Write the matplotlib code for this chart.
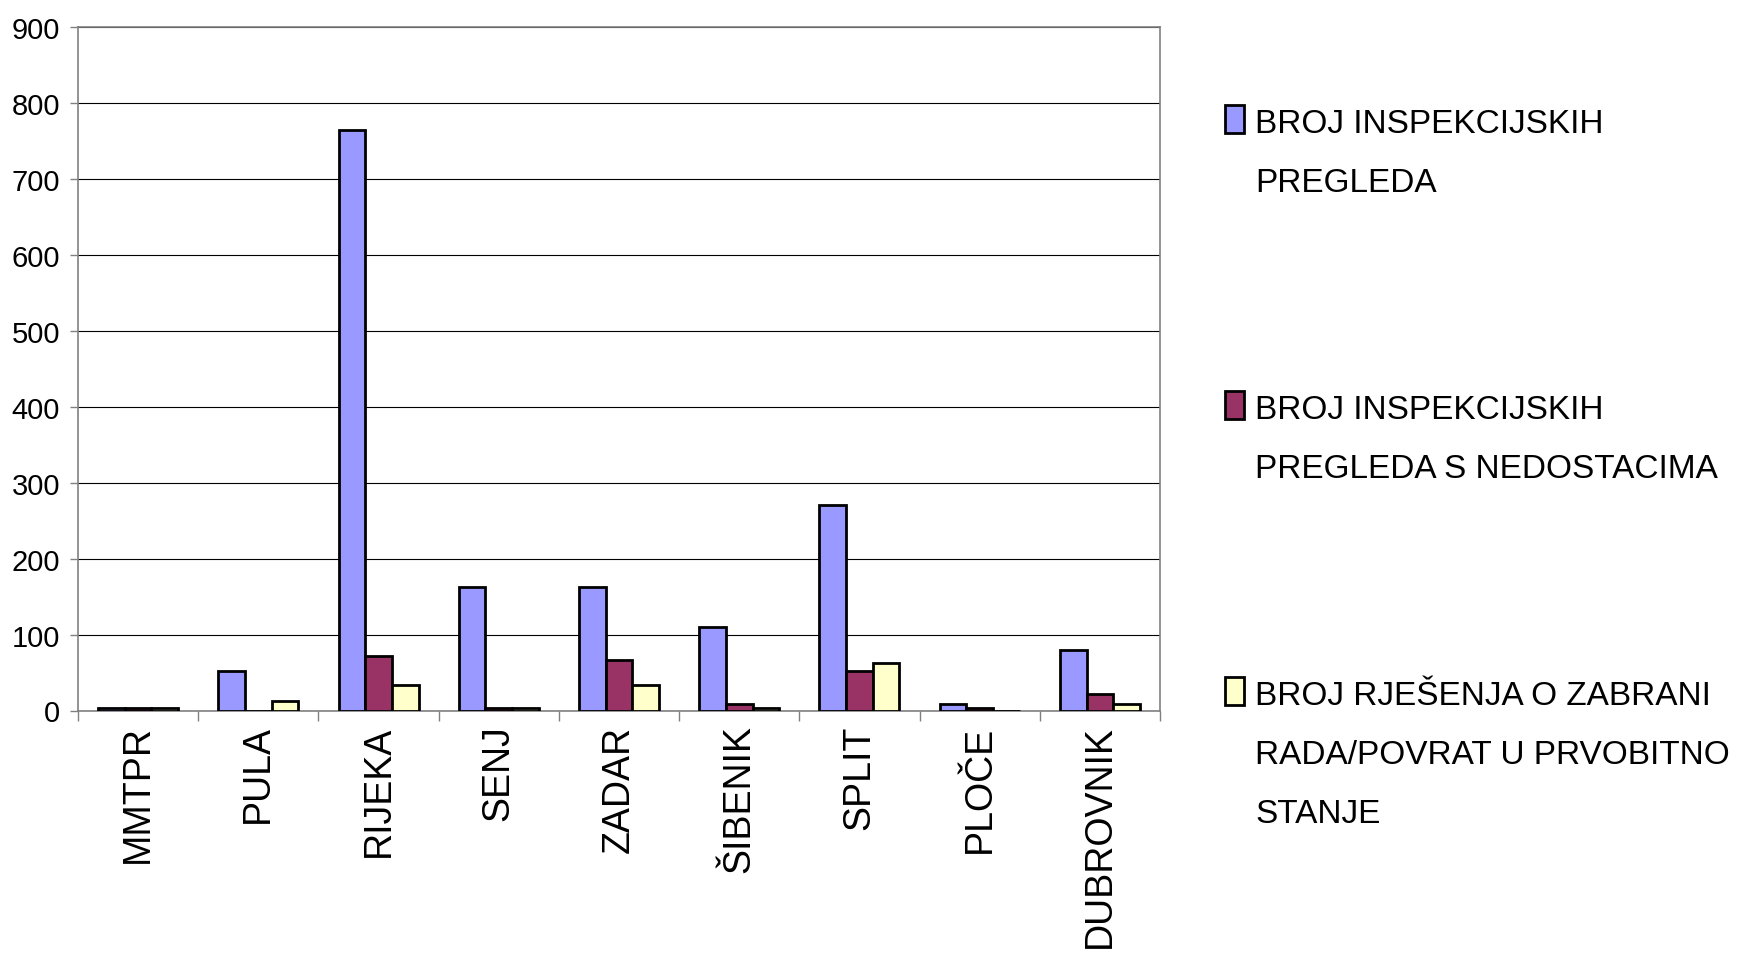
import matplotlib
matplotlib.use("Agg")
import matplotlib.pyplot as plt
import numpy as np
from matplotlib.patches import Rectangle

categories = ["MMTPR", "PULA", "RIJEKA", "SENJ", "ZADAR", "ŠIBENIK", "SPLIT", "PLOČE", "DUBROVNIK"]
pregledi = [3, 52, 765, 163, 163, 110, 270, 8, 80]
s_nedostacima = [3, 0, 72, 3, 67, 8, 52, 3, 22]
rjesenja = [3, 13, 33, 3, 33, 3, 62, 0, 8]
series_labels = [
    ["BROJ INSPEKCIJSKIH", "PREGLEDA"],
    ["BROJ INSPEKCIJSKIH", "PREGLEDA S NEDOSTACIMA"],
    ["BROJ RJEŠENJA O ZABRANI", "RADA/POVRAT U PRVOBITNO", "STANJE"],
]
colors = ["#9999FF", "#993366", "#FFFFCC"]
yticks = [0, 100, 200, 300, 400, 500, 600, 700, 800, 900]

font = "Liberation Sans"

W, H = 1746, 962
fig = plt.figure(figsize=(W / 100, H / 100), dpi=100)
left, right, top, bottom = 78, 1160, 28, 711.5
ax = fig.add_axes([left / W, 1 - bottom / H, (right - left) / W, (bottom - top) / H])

x = np.arange(len(categories))
bw = 0.222
series = [pregledi, s_nedostacima, rjesenja]
for i, (vals, c) in enumerate(zip(series, colors)):
    ax.bar(x + (i - 1) * bw, vals, width=bw, color=c, edgecolor="black", linewidth=2.0, zorder=3)

ax.set_xlim(-0.5, len(categories) - 0.5)
ax.set_ylim(0, 900)
ax.set_yticks(yticks)
ax.set_yticklabels([str(v) for v in yticks], fontfamily=font, fontsize=21)
ax.yaxis.grid(True, color="#000000", linewidth=0.8, zorder=0)
ax.set_axisbelow(True)

ax.set_xticks(np.arange(len(categories) + 1) - 0.5)
ax.set_xticklabels([])
ax.set_xticks(x, minor=True)
ax.set_xticklabels(categories, minor=True, rotation=90, fontfamily=font, fontsize=27,
                   va="top", ha="center")
ax.tick_params(axis="x", which="major", direction="out", length=7, width=1, color="#808080")
ax.tick_params(axis="x", which="minor", length=0, pad=10)
ax.tick_params(axis="y", direction="out", length=6, width=1, color="#808080", pad=7)

for sp in ax.spines.values():
    sp.set_color("#808080")
    sp.set_linewidth(1.2)

# legend (manual, right side)
entry_baselines = [133, 419, 705]
pitch = 59
for lines, c, yb in zip(series_labels, colors, entry_baselines):
    fig.add_artist(Rectangle((1225 / W, 1 - (yb + 1) / H), 19 / W, 28 / H,
                             transform=fig.transFigure, facecolor=c, edgecolor="black",
                             linewidth=2.0))
    for k, line in enumerate(lines):
        fig.text(1255 / W, 1 - (yb + k * pitch) / H, line, fontfamily=font, fontsize=24,
                 va="baseline", ha="left")

fig.savefig("out.png", dpi=100, facecolor="white")
